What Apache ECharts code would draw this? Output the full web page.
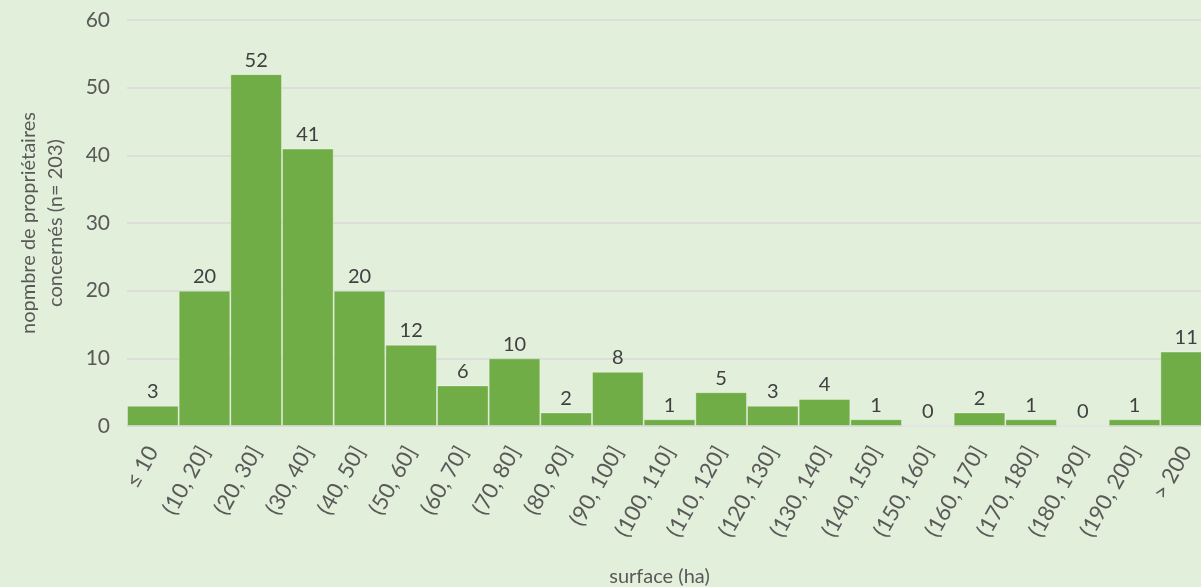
<!DOCTYPE html>
<html>
<head>
<meta charset="utf-8">
<script src="https://cdn.jsdelivr.net/npm/echarts@6/dist/echarts.min.js"></script>
<style>
  html, body { margin: 0; padding: 0; background: #e2efda; }
  #chart { width: 1201px; height: 587px; }
</style>
</head>
<body>
<div id="chart"></div>
<script>
const categories = ['≤ 10', '(10, 20]', '(20, 30]', '(30, 40]', '(40, 50]', '(50, 60]', '(60, 70]',
  '(70, 80]', '(80, 90]', '(90, 100]', '(100, 110]', '(110, 120]', '(120, 130]', '(130, 140]',
  '(140, 150]', '(150, 160]', '(160, 170]', '(170, 180]', '(180, 190]', '(190, 200]', '> 200'];
const counts = [3, 20, 52, 41, 20, 12, 6, 10, 2, 8, 1, 5, 3, 4, 1, 0, 2, 1, 0, 1, 11];
const yTicks = { min: 0, max: 60, interval: 10 };

const chart = echarts.init(document.getElementById('chart'));
const font = 'Lato, "Open Sans", sans-serif';

chart.setOption({
  backgroundColor: '#e2efda',
  textStyle: { fontFamily: font },
  grid: { left: 127, top: 20, width: 1085, height: 406, containLabel: false, outerBoundsMode: 'none' },
  xAxis: {
    type: 'category',
    data: categories,
    name: 'surface (ha)',
    nameLocation: 'middle',
    nameGap: 141,
    nameTextStyle: { color: '#595959', fontSize: 20, fontFamily: font, padding: [0, 20, 0, 0] },
    axisLine: { lineStyle: { color: '#d9d9d9', width: 1.5 } },
    axisTick: { show: false },
    axisLabel: { rotate: 61, color: '#595959', fontSize: 22, margin: 22, interval: 0, fontFamily: font }
  },
  yAxis: {
    type: 'value',
    min: yTicks.min,
    max: yTicks.max,
    interval: yTicks.interval,
    name: 'nopmbre de propriétaires\nconcernés (n= 203)',
    nameLocation: 'middle',
    nameGap: 58,
    nameRotate: 90,
    nameTextStyle: { color: '#595959', fontSize: 20, lineHeight: 27, fontFamily: font },
    axisLine: { show: false },
    axisTick: { show: false },
    splitLine: { lineStyle: { color: '#d9d9d9', width: 1.5 } },
    axisLabel: { color: '#595959', fontSize: 21, margin: 17, fontFamily: font }
  },
  series: [{
    type: 'bar',
    data: counts,
    barCategoryGap: 0,
    itemStyle: { color: '#70ad47', borderColor: 'rgba(255,255,255,0.35)', borderWidth: 1 },
    label: { show: true, position: 'top', color: '#404040', fontSize: 20, distance: 4, fontFamily: font },
    silent: true
  }]
});
</script>
</body>
</html>
